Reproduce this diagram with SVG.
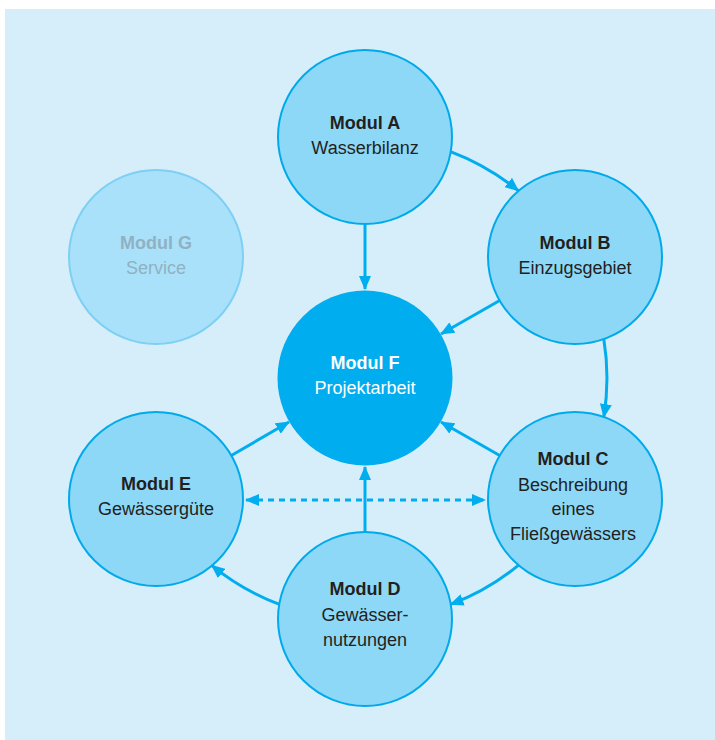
<svg xmlns="http://www.w3.org/2000/svg" width="715" height="740" viewBox="0 0 715 740">
<defs>
<style>
.node{fill:#8dd8f7;stroke:#00aaea;stroke-width:2}
.t{font-family:"Liberation Sans",Arial,sans-serif;font-size:18px;fill:#231f20;text-anchor:middle}
.b{font-weight:bold}
.con{fill:none;stroke:#00aeef;stroke-width:3}
</style>
<marker id="ah" viewBox="0 0 14 12" markerWidth="14" markerHeight="12" markerUnits="userSpaceOnUse" refX="13" refY="6" orient="auto-start-reverse">
<path d="M0,0 L14,6 L0,12 Z" fill="#00aeef"/>
</marker>
</defs>
<rect x="5" y="9" width="710" height="731" fill="#d6edfa"/>
<g id="connectors">
<path class="con" d="M365 225 L365 289" marker-end="url(#ah)"/>
<path class="con" d="M365 532 L365 467" marker-end="url(#ah)"/>
<path class="con" d="M499.7 300.5 L441 334" marker-end="url(#ah)"/>
<path class="con" d="M499.7 455.5 L441 422" marker-end="url(#ah)"/>
<path class="con" d="M231.3 455.5 L289 422" marker-end="url(#ah)"/>
<path class="con" d="M450.5 151.6 A242 242 0 0 1 518.3 190.7" marker-end="url(#ah)"/>
<path class="con" d="M603.8 339 A242 242 0 0 1 603.8 417" marker-end="url(#ah)"/>
<path class="con" d="M518.3 565.3 A242 242 0 0 1 450.5 604.4" marker-end="url(#ah)"/>
<path class="con" d="M279.5 604.4 A242 242 0 0 1 211.7 565.3" marker-end="url(#ah)"/>
<path class="con" d="M246 500 L485 500" stroke-dasharray="6 5" stroke-width="2.5" marker-start="url(#ah)" marker-end="url(#ah)"/>
</g>
<g id="modulG">
<circle cx="156" cy="257" r="87" fill="#aae1fa" stroke="#7dd0f4" stroke-width="2"/>
<text class="t b" x="156" y="249" style="fill:#8fb1c3">Modul G</text>
<text class="t" x="156" y="274" style="fill:#8fb1c3">Service</text>
</g>
<g id="modulA">
<circle class="node" cx="365" cy="137" r="87"/>
<text class="t b" x="365" y="129">Modul A</text>
<text class="t" x="365" y="154">Wasserbilanz</text>
</g>
<g id="modulB">
<circle class="node" cx="575" cy="257" r="87"/>
<text class="t b" x="575" y="249">Modul B</text>
<text class="t" x="575" y="274">Einzugsgebiet</text>
</g>
<g id="modulF">
<circle cx="365" cy="378" r="87.5" fill="#00adef"/>
<text class="t b" x="365" y="369" style="fill:#ffffff">Modul F</text>
<text class="t" x="365" y="394" style="fill:#ffffff">Projektarbeit</text>
</g>
<g id="modulC">
<circle class="node" cx="575" cy="499" r="87"/>
<text class="t b" x="573" y="465">Modul C</text>
<text class="t" x="573" y="491">Beschreibung</text>
<text class="t" x="573" y="515">eines</text>
<text class="t" x="573" y="540">Fließgewässers</text>
</g>
<g id="modulD">
<circle class="node" cx="365" cy="619" r="87"/>
<text class="t b" x="365" y="595">Modul D</text>
<text class="t" x="365" y="621">Gewässer-</text>
<text class="t" x="365" y="646">nutzungen</text>
</g>
<g id="modulE">
<circle class="node" cx="156" cy="499" r="87"/>
<text class="t b" x="156" y="490">Modul E</text>
<text class="t" x="156" y="515">Gewässergüte</text>
</g>
</svg>
